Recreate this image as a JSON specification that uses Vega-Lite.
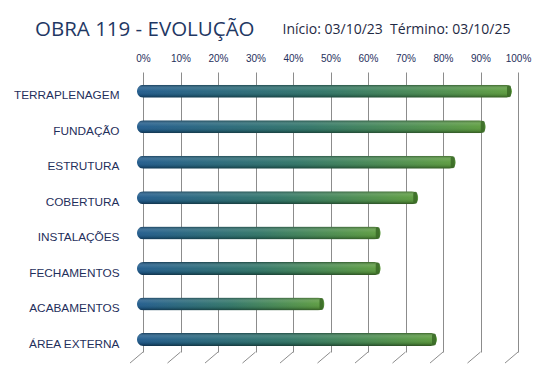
{
  "$schema": "https://vega.github.io/schema/vega-lite/v6.json",
  "width": 375,
  "height": 280,
  "autosize": {"type": "none"},
  "padding": {"left": 137, "top": 72, "right": 40, "bottom": 27},
  "background": "white",
  "title": {
    "text": "OBRA 119 - EVOLUÇÃO",
    "anchor": "start",
    "frame": "group",
    "orient": "top",
    "dx": -102,
    "dy": 34,
    "font": "Open Sans",
    "fontSize": 20.5,
    "fontWeight": "normal",
    "color": "#1f3864",
    "baseline": "alphabetic",
    "offset": 0
  },
  "datasets": {
    "bars": [
      {"etapa": "TERRAPLENAGEM", "pct": 100},
      {"etapa": "FUNDAÇÃO", "pct": 93},
      {"etapa": "ESTRUTURA", "pct": 85},
      {"etapa": "COBERTURA", "pct": 75},
      {"etapa": "INSTALAÇÕES", "pct": 65},
      {"etapa": "FECHAMENTOS", "pct": 65},
      {"etapa": "ACABAMENTOS", "pct": 50},
      {"etapa": "ÁREA EXTERNA", "pct": 80}
    ],
    "grid": [
      {"pct": 0}, {"pct": 10}, {"pct": 20}, {"pct": 30}, {"pct": 40}, {"pct": 50},
      {"pct": 60}, {"pct": 70}, {"pct": 80}, {"pct": 90}, {"pct": 100}
    ]
  },
  "encoding": {
    "x": {
      "field": "pct",
      "type": "quantitative",
      "scale": {"domain": [0, 100]},
      "axis": {
        "orient": "top",
        "values": [0, 10, 20, 30, 40, 50, 60, 70, 80, 90, 100],
        "labelExpr": "datum.value + '%'",
        "labelOverlap": false,
        "labelFlush": false,
        "tickOffset": 6,
        "domain": false,
        "ticks": false,
        "grid": true,
        "gridColor": "#8c8c8c",
        "gridOpacity": 1,
        "gridWidth": 1,
        "labelPadding": 9,
        "labelFont": "Liberation Sans",
        "labelFontSize": 10,
        "labelColor": "#1f2f5c",
        "title": "Início: 03/10/23\u00a0 Término: 03/10/25",
        "titleX": 145,
        "titleY": -39,
        "titleAlign": "left",
        "titleBaseline": "alphabetic",
        "titleAngle": 0,
        "titleFont": "Open Sans",
        "titleFontSize": 14,
        "titleFontWeight": "normal",
        "titleColor": "#1f2a44"
      }
    }
  },
  "layer": [
    {
      "data": {"name": "grid"},
      "mark": {
        "type": "point",
        "shape": "M0,0L-1,0.85",
        "size": 676,
        "filled": false,
        "stroke": "#8c8c8c",
        "strokeWidth": 1,
        "opacity": 1,
        "xOffset": 6
      },
      "encoding": {
        "y": {"value": {"expr": "height"}}
      }
    },
    {
      "data": {"name": "bars"},
      "mark": {
        "type": "bar",
        "size": 13,
        "yOffset": 3.4,
        "cornerRadius": 6.5,
        "color": {
          "gradient": "linear",
          "x1": 0, "x2": 1, "y1": 0, "y2": 0,
          "stops": [
            {"offset": 0, "color": "#1f5a8c"},
            {"offset": 0.5, "color": "#2f7466"},
            {"offset": 1, "color": "#5c9c3c"}
          ]
        }
      },
      "encoding": {
        "y": {
          "field": "etapa",
          "type": "nominal",
          "sort": null,
          "scale": {"paddingInner": 0.1, "paddingOuter": 0},
          "axis": {
            "title": null,
            "domain": false,
            "ticks": false,
            "grid": false,
            "labelPadding": 18,
            "labelOffset": 7.5,
            "labelFont": "Liberation Sans",
            "labelFontSize": 11.8,
            "labelColor": "#1f2f5c"
          }
        }
      }
    },
    {
      "data": {"name": "bars"},
      "mark": {
        "type": "bar",
        "size": 13,
        "yOffset": 3.4,
        "cornerRadius": 6.5,
        "color": {
          "gradient": "linear",
          "x1": 0, "x2": 0, "y1": 0, "y2": 1,
          "stops": [
            {"offset": 0, "color": "rgba(0,0,0,0.35)"},
            {"offset": 0.25, "color": "rgba(255,255,255,0.14)"},
            {"offset": 0.5, "color": "rgba(255,255,255,0.04)"},
            {"offset": 0.8, "color": "rgba(0,0,0,0.12)"},
            {"offset": 1, "color": "rgba(0,0,0,0.45)"}
          ]
        }
      },
      "encoding": {
        "y": {"field": "etapa", "type": "nominal", "sort": null}
      }
    },
    {
      "data": {"name": "bars"},
      "mark": {
        "type": "tick",
        "thickness": 4,
        "size": 12,
        "xOffset": -3,
        "yOffset": 3.4,
        "cornerRadius": 2,
        "color": "#3a6a26",
        "opacity": 0.85
      },
      "encoding": {
        "y": {"field": "etapa", "type": "nominal", "sort": null}
      }
    }
  ],
  "config": {
    "view": {"stroke": null}
  }
}
